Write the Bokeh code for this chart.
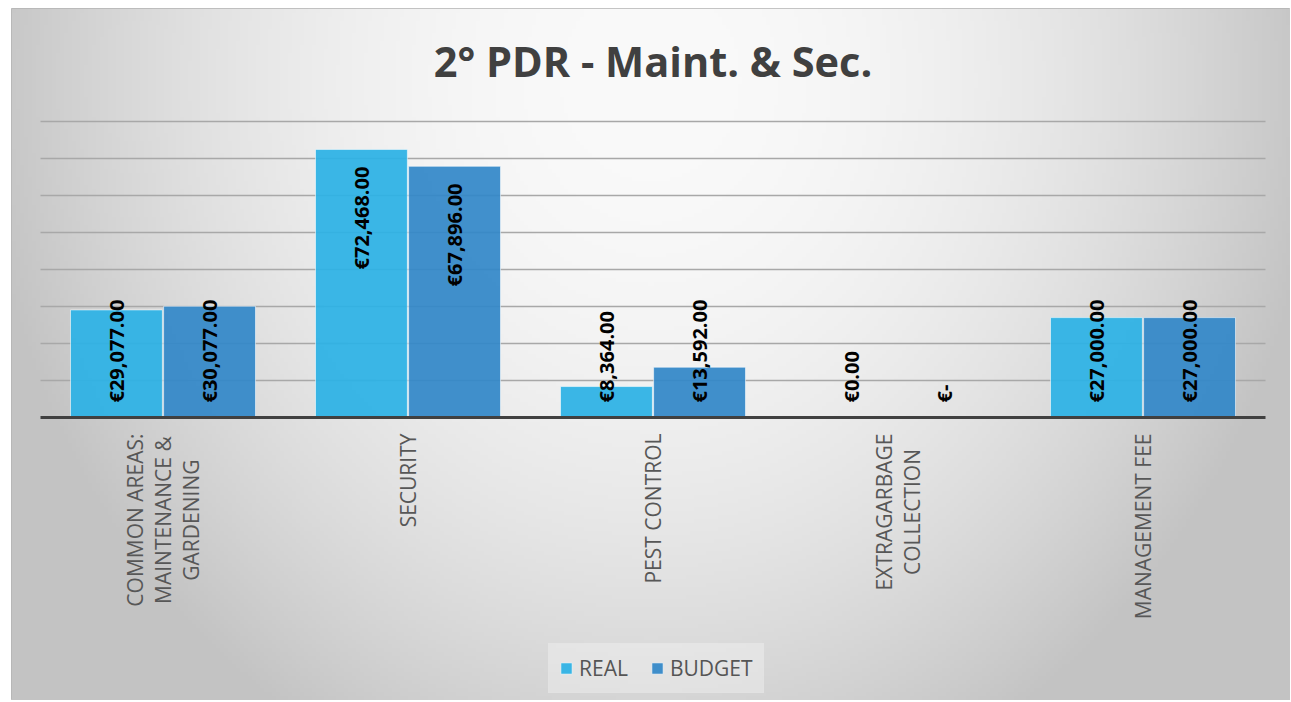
import numpy as np
from math import pi
from bokeh.plotting import figure
from bokeh.models import Range1d, ColumnDataSource, Legend, LegendItem
from bokeh.core.properties import value
from bokeh.embed import file_html
from bokeh.resources import INLINE

# ---------------- data ----------------
chart_title = "2° PDR - Maint. & Sec."
categories = [
    "COMMON AREAS:\nMAINTENANCE &\nGARDENING",
    "SECURITY",
    "PEST CONTROL",
    "EXTRAGARBAGE\nCOLLECTION",
    "MANAGEMENT FEE",
]
series_names = ["REAL", "BUDGET"]
real = [29077.00, 72468.00, 8364.00, 0.00, 27000.00]
budget = [30077.00, 67896.00, 13592.00, 0.00, 27000.00]
grid_ticks = [10000, 20000, 30000, 40000, 50000, 60000, 70000, 80000]


def fmt_real(v):
    return "€{:,.2f}".format(v)


def fmt_budget(v):
    return "€-" if v == 0 else "€{:,.2f}".format(v)


# ---------------- layout constants ----------------
W, H = 1290, 700
ML, MT = 11, 8        # white margins left / top
FW, FH = W - ML, H - MT
PX = 270.3            # data units per vertical pixel
UNIT = 245.0          # pixels per category
BASE = 409            # baseline, px from frame top
x_start = -29 / UNIT
x_end = x_start + FW / UNIT
y_end = BASE * PX
y_start = -(FH - BASE) * PX

REAL_C = "#2cb1e5"
BUDGET_C = "#3388c8"
FONT = "Open Sans"

p = figure(width=W, height=H, output_backend="svg", toolbar_location=None,
           x_axis_type=None, y_axis_type=None,
           x_range=Range1d(x_start, x_end), y_range=Range1d(y_start, y_end),
           min_border_left=ML, min_border_right=0, min_border_top=MT, min_border_bottom=0,
           border_fill_color="white", outline_line_color="#b3b3b3", outline_line_width=1)
p.background_fill_color = "#e6e6e6"

# ---------------- gradient background ----------------
nx, ny = 320, 172
fx = (np.arange(nx) + 0.5) / nx * FW + ML
fy = H - (np.arange(ny) + 0.5) / ny * FH
X, Y = np.meshgrid(fx, fy)
r2 = ((X - 650) / 640) ** 2 + ((Y - 80) / 720) ** 2
g = (250 - 50 * np.clip(r2, 0, 1.1)).astype(np.uint8)
img = np.empty((ny, nx), dtype=np.uint32)
view = img.view(dtype=np.uint8).reshape((ny, nx, 4))
view[..., 0] = g
view[..., 1] = g
view[..., 2] = g
view[..., 3] = 255
p.image_rgba(image=[img], x=x_start, y=y_start, dw=x_end - x_start, dh=y_end - y_start, level="image")

# ---------------- gridlines ----------------
n = len(categories)
p.segment(x0=[0] * len(grid_ticks), x1=[n] * len(grid_ticks), y0=grid_ticks, y1=grid_ticks,
          line_color="#a8a8a8", line_width=1.4, level="underlay")

# ---------------- bars ----------------
xc = np.arange(n) + 0.5
off = 0.19
bw = 0.375
src = ColumnDataSource(dict(xr=xc - off, xb=xc + off, real=real, budget=budget))
r_real = p.vbar(x="xr", top="real", width=bw, source=src, fill_color=REAL_C, fill_alpha=0.93,
                line_color="white", line_alpha=0.55, line_width=1)
r_budget = p.vbar(x="xb", top="budget", width=bw, source=src, fill_color=BUDGET_C, fill_alpha=0.93,
                  line_color="white", line_alpha=0.55, line_width=1)

# baseline
p.segment(x0=[0], x1=[n], y0=[0], y1=[0], line_color="#404040", line_width=3)

# ---------------- value labels ----------------
CW = {"€": 11.4, ",": 5.8, ".": 5.8, "-": 6.4}


def est_len(s):
    return sum(CW.get(ch, 11.44) for ch in s)


def label_y(v, s):
    vpx = v / PX
    return max(15.0, vpx - 17 - est_len(s)) * PX


lx, ly, lt = [], [], []
for i in range(n):
    for xs, v, s in ((xc[i] - off, real[i], fmt_real(real[i])),
                     (xc[i] + off, budget[i], fmt_budget(budget[i]))):
        lx.append(xs)
        ly.append(label_y(v, s))
        lt.append(s)
p.text(x=lx, y=ly, text=lt, angle=pi / 2, text_align="left", text_baseline="middle",
       text_font=value(FONT), text_font_style="bold", text_font_size="20px", text_color="black")

# ---------------- category labels ----------------
p.text(x=list(xc), y=[-16 * PX] * n, text=categories, angle=pi / 2,
       anchor=value("center_right"), text_align="center",
       text_font=value(FONT), text_font_size="21px", text_color="#575757",
       text_line_height=1.0)

# ---------------- title ----------------
p.text(x=[n / 2], y=[(BASE - 52) * PX], text=[chart_title], text_align="center",
       text_baseline="middle", text_font=value(FONT), text_font_style="bold",
       text_font_size="41.5px", text_color="#404040")

# ---------------- legend ----------------
legend = Legend(items=[LegendItem(label=series_names[0], renderers=[r_real]),
                       LegendItem(label=series_names[1], renderers=[r_budget])],
                location=(537, 7), orientation="horizontal")
legend.padding = 10
legend.margin = 0
legend.spacing = 22
legend.label_standoff = 6
legend.glyph_width = 14
legend.glyph_height = 14
legend.label_text_font = FONT
legend.label_text_font_size = "21px"
legend.label_text_color = "#555555"
legend.background_fill_color = "white"
legend.background_fill_alpha = 0.3
legend.border_line_color = "#e3e3e3"
legend.border_line_width = 1
p.add_layout(legend)

open("out.html", "w").write(file_html(p, INLINE))
